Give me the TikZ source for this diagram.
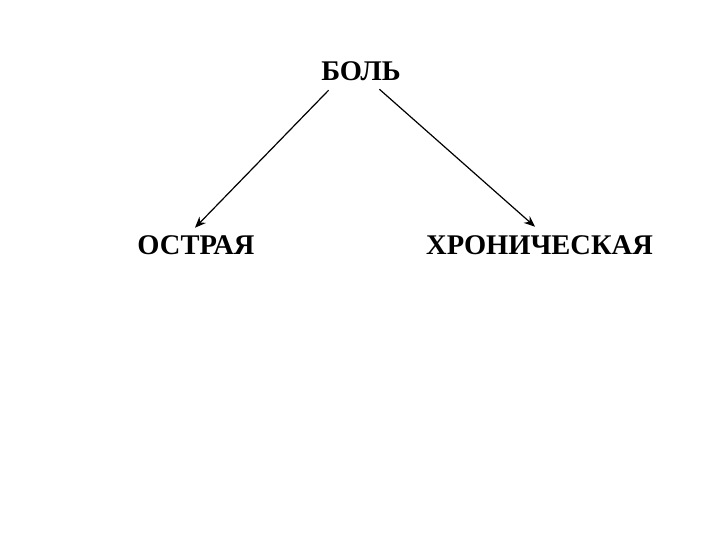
\documentclass[tikz,border=0pt]{standalone}
\usepackage{fontspec}
\setmainfont{Liberation Serif}
\usetikzlibrary{arrows.meta}
\tikzset{
  lbl/.style={font=\fontsize{28.5}{34}\selectfont\bfseries, inner sep=0pt, text=black},
  conn/.style={draw=black, line width=1.2pt, -{Stealth[length=11pt,width=9pt]}}
}
\begin{document}
\begin{tikzpicture}[x=1pt,y=-1pt]
\useasboundingbox[fill=white] (0,0) rectangle (720,540);
\node[lbl] (bol) at (361,71) {БОЛЬ};
\node[lbl] (ostr) at (196,245.5) {ОСТРАЯ};
\node[lbl] (chron) at (539.5,245.5) {ХРОНИЧЕСКАЯ};
\draw[conn] ([shift={(7.5pt,-9.5pt)}]bol.south west) -- ([shift={(-1pt,8pt)}]ostr.north);
\draw[conn] ([shift={(-21.5pt,-8.5pt)}]bol.south east) -- ([shift={(-4.5pt,9pt)}]chron.north);
\end{tikzpicture}
\end{document}
